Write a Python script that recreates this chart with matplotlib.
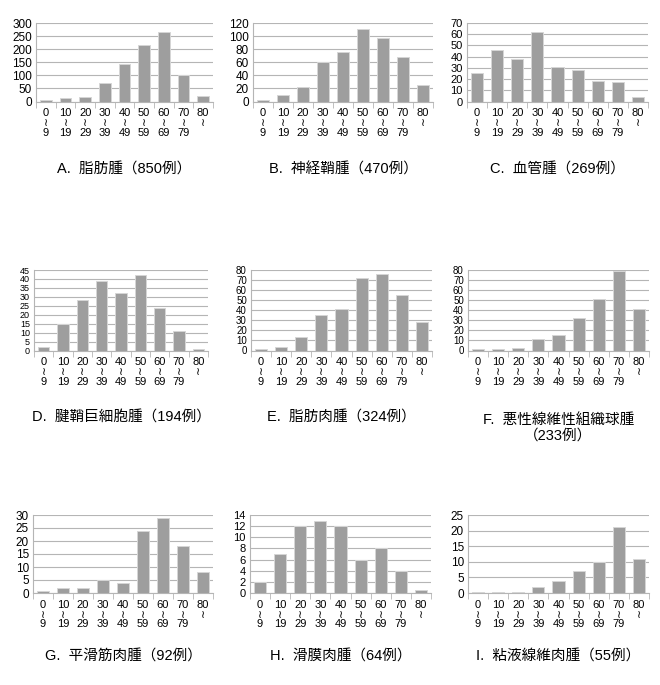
import matplotlib
matplotlib.use('Agg')
import matplotlib.pyplot as plt
import numpy as np

plt.rcParams['font.family'] = ['Liberation Sans', 'Noto Sans CJK JP', 'DejaVu Sans']

# age groups (x tick labels)
ages_lo = ['0', '10', '20', '30', '40', '50', '60', '70', '80']
ages_hi = ['9', '19', '29', '39', '49', '59', '69', '79', '']

titles = [
    'A.  脂肪腫（850例）',
    'B.  神経鞘腫（470例）',
    'C.  血管腫（269例）',
    'D.  腱鞘巨細胞腫（194例）',
    'E.  脂肪肉腫（324例）',
    'F.  悪性線維性組織球腫\n（233例）',
    'G.  平滑筋肉腫（92例）',
    'H.  滑膜肉腫（64例）',
    'I.  粘液線維肉腫（55例）',
]

cnt_a = [6, 12, 19, 70, 142, 215, 265, 100, 21]
cnt_b = [2, 10, 22, 60, 75, 111, 97, 68, 25]
cnt_c = [25, 46, 38, 62, 31, 28, 18, 17, 4]
cnt_d = [2, 15, 28, 39, 32, 42, 24, 11, 1]
cnt_e = [1, 3, 13, 35, 41, 72, 76, 55, 28]
cnt_f = [1, 1, 2, 11, 15, 32, 51, 79, 41]
cnt_g = [0.6, 2, 2, 5, 4, 24, 29, 18, 8]
cnt_h = [2, 7, 12, 13, 12, 6, 8, 4, 0.6]
cnt_i = [0.4, 0.4, 0.4, 2, 4, 7, 10, 21, 11]
counts = [cnt_a, cnt_b, cnt_c, cnt_d, cnt_e, cnt_f, cnt_g, cnt_h, cnt_i]

y_max = [300, 120, 70, 45, 80, 80, 30, 14, 25]
y_step = [50, 20, 10, 5, 10, 10, 5, 2, 5]
# y label size per panel (crowded scales get smaller text)
y_fs = [8.5, 8.5, 8, 6.5, 7, 7, 8.5, 8, 8.5]

W, H = 660, 685
# axes boxes in pixels: left, right, top, bottom
boxes = [
    (36, 213, 23, 101.5), (253, 433, 23, 101.5), (467, 648, 23, 101.5),
    (34, 208, 270, 350.5), (251, 432, 270, 350.5), (468, 649, 270, 350.5),
    (33, 213, 515, 593), (250, 431, 515, 593), (468, 649, 515, 593),
]
title_y = [170, 170, 170, 418, 418, 428, 657, 657, 657]

fig = plt.figure(figsize=(W / 100, H / 100), dpi=100)
grid_c = '#b5b5b5'
x = np.arange(len(ages_lo))
xlabels = [f'{lo}\n≀\n{hi}' if hi else f'{lo}\n≀\n ' for lo, hi in zip(ages_lo, ages_hi)]

for k in range(9):
    l, r, t, b = boxes[k]
    ax = fig.add_axes([l / W, 1 - b / H, (r - l) / W, (b - t) / H])
    ax.bar(x, counts[k], width=0.6, color='#9e9e9e', edgecolor='#d6d6d6', linewidth=0.7, zorder=3)
    ax.set_xlim(-0.5, 8.5)
    ax.set_ylim(0, y_max[k])
    ax.set_yticks(np.arange(0, y_max[k] + 1, y_step[k]))
    ax.yaxis.grid(True, color=grid_c, linewidth=0.8, zorder=0)
    ax.tick_params(axis='y', length=0, pad=3, labelsize=y_fs[k])
    ax.set_xticks(x)
    ax.set_xticklabels(xlabels, fontsize=8, linespacing=0.95, va='top')
    ax.set_xticks(np.arange(-0.5, 9, 1), minor=True)
    ax.tick_params(axis='x', which='major', length=0, pad=5)
    ax.tick_params(axis='x', which='minor', length=4, color=grid_c, direction='out')
    for s in ['top', 'right']:
        ax.spines[s].set_visible(False)
    ax.spines['left'].set_color(grid_c)
    ax.spines['bottom'].set_color(grid_c)
    fig.text((l + r) / 2 / W, 1 - title_y[k] / H, titles[k], ha='center', va='center',
             fontsize=10.5, linespacing=1.15, multialignment='center')

fig.savefig('out.png', dpi=100)
